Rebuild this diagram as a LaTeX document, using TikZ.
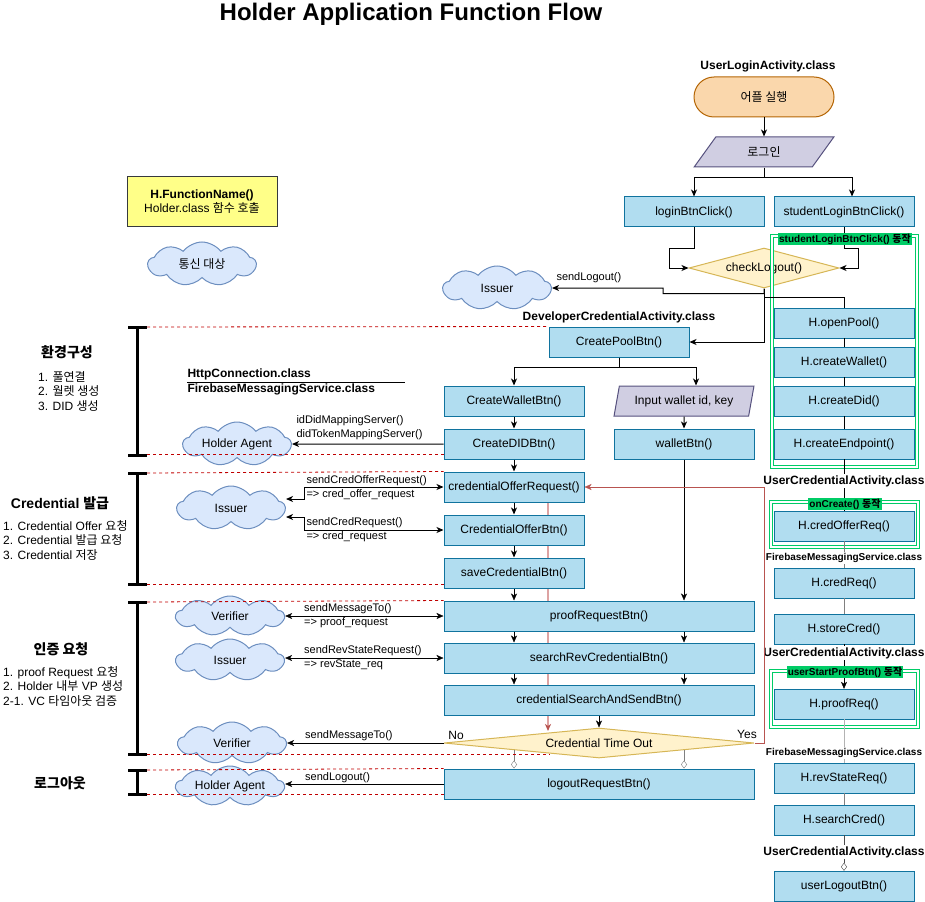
\documentclass[tikz,border=0pt]{standalone}
\usepackage{fontspec}
\setmainfont{Liberation Sans}
\newfontfamily\kr{Noto Sans CJK KR}
\usetikzlibrary{arrows.meta,shapes.geometric,shapes.symbols,backgrounds}

\definecolor{btnfill}{HTML}{B1DDF0}
\definecolor{btnline}{HTML}{10739E}
\definecolor{termfill}{HTML}{FAD7AC}
\definecolor{termline}{HTML}{B46504}
\definecolor{parafill}{HTML}{D0CEE2}
\definecolor{paraline}{HTML}{56517E}
\definecolor{decfill}{HTML}{FFF2CC}
\definecolor{decline}{HTML}{D6B656}
\definecolor{cloudfill}{HTML}{DAE8FC}
\definecolor{cloudline}{HTML}{6C8EBF}
\definecolor{notefill}{HTML}{FFFF88}
\definecolor{noteline}{HTML}{36393D}
\definecolor{framegreen}{HTML}{00CC66}
\definecolor{sepred}{HTML}{C00000}
\definecolor{redline}{HTML}{B85450}
\definecolor{pinkline}{HTML}{DDA3A3}
\definecolor{midgray}{HTML}{808080}
\definecolor{lightgray}{HTML}{B3B3B3}

\newcommand{\boxfont}{\fontsize{12}{14}\selectfont}
\newcommand{\smallfont}{\fontsize{11}{13}\selectfont}
\newcommand{\listfont}{\fontsize{12}{14.5}\selectfont}
\newcommand{\tagfont}{\fontsize{10}{12}\selectfont\bfseries}
\newcommand{\sectfont}{\fontsize{14}{17}\selectfont\bfseries}

\begin{document}
\begin{tikzpicture}[x=1pt,y=-1pt,line width=1pt,>={Stealth[length=7pt,width=6pt,inset=2pt]}]
\useasboundingbox (0,0) rectangle (925,901);
% Styles for each kind of shape
\tikzstyle{every node}=[font=\boxfont, inner sep=0pt];
\tikzstyle{btn} = [draw=btnline, fill=btnfill, minimum width=140, minimum height=30]
\tikzstyle{widebtn} = [btn, minimum width=310]
\tikzstyle{term} = [draw=termline, fill=termfill, rounded corners=20pt, minimum width=140, minimum height=40]
\tikzstyle{para} = [draw=paraline, fill=parafill, trapezium, trapezium stretches=true, minimum height=30, minimum width=140]
\tikzstyle{decision} = [draw=decline, fill=decfill, diamond, shape aspect=4]
\tikzstyle{peer} = [draw=cloudline, fill=cloudfill, cloud, cloud puffs=9, cloud puff arc=105, cloud ignores aspect, minimum width=108, minimum height=44]
\tikzstyle{note} = [draw=noteline, fill=notefill, minimum width=150, minimum height=50, align=center]
\tikzstyle{lbl} = [font=\smallfont, anchor=west]
\tikzstyle{cls} = [font=\boxfont\bfseries]
\tikzstyle{sec} = [font=\sectfont]
\tikzstyle{steps} = [anchor=west, align=left, font=\listfont]
\tikzstyle{sep} = [draw=sepred, dash pattern=on 3pt off 3pt, line width=0.8pt]
\tikzstyle{bracket} = [line width=3pt]
\tikzstyle{frame} = [draw=framegreen, double=white, double distance=1.1pt, line width=1.1pt]
\tikzstyle{tag} = [fill=framegreen, font=\tagfont, inner sep=1pt]

\node[font=\fontsize{24}{28}\selectfont\bfseries] (title) at (411,14) {Holder Application Function Flow};

% Legend
\node[note] (legend) at (202,202) {\textbf{H.FunctionName()}\\Holder.class {\kr 함수 호출}};
\node[peer] (legendCloud) at (202,264) {\kr 통신 대상};

% Login part
\node[cls] (lblUserLogin) at (768,66) {UserLoginActivity.class};
\node[term] (appStart) at (764,97) {\kr 어플 실행};
\node[para, trapezium left angle=55, trapezium right angle=125] (loginIn) at (764,152) {\kr 로그인};
\node[btn] (loginBtn) at (694,212) {loginBtnClick()};
\node[btn] (studentBtn) at (844,212) {studentLoginBtnClick()};
\node[decision, minimum width=150, minimum height=40] (chkLogout) at (764,268) {checkLogout()};
\node[peer] (issuerA) at (497,288) {Issuer};

\draw[->] (appStart) -- (loginIn);
\draw[->] (loginIn.south) -- ++(0,10) -| (loginBtn.north);
\draw[->] (loginIn.south) -- ++(0,10) -| ([xshift=8pt]studentBtn.north);
\draw[->] (loginBtn.south) -- ++(0,21) -- ++(-25,0) |- (chkLogout.west);
\draw[->] (studentBtn.south) -- ++(0,21) -- ++(14,0) |- (chkLogout.east);
\draw[->] (chkLogout.south) -- ++(0,5) -| (663,288) -- (issuerA.east);
\node[lbl] at (556,278) {sendLogout()};

% Developer credential activity
\node[cls] (lblDevCred) at (619,317) {DeveloperCredentialActivity.class};
\node[btn] (createPool) at (619,342) {CreatePoolBtn()};
\node[btn] (createWallet) at (514,401) {CreateWalletBtn()};
\node[para, trapezium left angle=70, trapezium right angle=110] (inputWallet) at (684,401) {Input wallet id, key};
\node[btn] (createDid) at (514,444) {CreateDIDBtn()};
\node[btn] (walletBtn) at (684,444) {walletBtn()};
\node[peer] (agentA) at (237,444) {Holder Agent};

\draw[->] (chkLogout.south) |- (createPool.east);
\draw[->] (createPool.south) -- ++(0,10) -| (createWallet.north);
\draw[->] (createPool.south) -- ++(0,10) -| ([xshift=12pt]inputWallet.north);
\draw[->] (createWallet) -- (createDid);
\draw[->] (inputWallet) -- (walletBtn);
\draw[->] (createDid) -- (agentA);
\node[lbl] at (296,421) {idDidMappingServer()};
\node[lbl] at (296,435) {didTokenMappingServer()};

\node[cls, anchor=west] (lblHttp) at (187,374) {HttpConnection.class};
\node[cls, anchor=west] (lblFcm) at (187,389) {FirebaseMessagingService.class};
\draw[line width=0.8pt] (187,382) -- (405,382);

% Credential issue
\node[btn] (credOfferRequest) at (514,487) {credentialOfferRequest()};
\node[btn] (credOfferBtn) at (514,530) {CredentialOfferBtn()};
\node[btn] (saveCred) at (514,573) {saveCredentialBtn()};
\node[peer] (issuerB) at (231,508) {Issuer};

\draw[->] (createDid) -- (credOfferRequest);
\draw[->] (credOfferRequest) -- (credOfferBtn);
\draw[->] (credOfferBtn) -- (saveCred);
\draw[<->] (issuerB.east |- 0,499) -| (304,487) -- (credOfferRequest.west);
\draw[<->] (issuerB.east |- 0,517) -| (304,530) -- (credOfferBtn.west);
\node[lbl] at (306,481) {sendCredOfferRequest()};
\node[lbl] at (306,495) {=> cred\_offer\_request};
\node[lbl] at (306,523) {sendCredRequest()};
\node[lbl] at (306,537) {=> cred\_request};

% Proof request
\node[widebtn] (proofReqBtn) at (599,616) {proofRequestBtn()};
\node[widebtn] (searchRev) at (599,658) {searchRevCredentialBtn()};
\node[widebtn] (credSearch) at (599,700) {credentialSearchAndSendBtn()};
\node[decision, minimum width=310, minimum height=30, shape aspect=10] (timeOut) at (599,743) {Credential Time Out};
\node[widebtn] (logoutBtn) at (599,784) {logoutRequestBtn()};
\node[peer, minimum height=40] (verifierA) at (230,616) {Verifier};
\node[peer, minimum height=42] (issuerC) at (230,660) {Issuer};
\node[peer, minimum height=42] (verifierB) at (232,743) {Verifier};
\node[peer, minimum height=40] (agentB) at (230,786) {Holder Agent};

\begin{pgfonlayer}{background}
\coordinate (pinkEnd) at (548,731);
\draw[draw=pinkline, line width=2pt, -{Stealth[length=7pt,width=6pt,inset=2pt,color=redline]}] ([xshift=34pt]credOfferRequest.south) -- (pinkEnd);
\end{pgfonlayer}

\draw[->] (saveCred.south) -- (saveCred.south |- proofReqBtn.north);
\draw[->] (walletBtn.south) -- (walletBtn.south |- proofReqBtn.north);
\draw[->] ([xshift=-85pt]proofReqBtn.south) -- ([xshift=-85pt]searchRev.north);
\draw[->] ([xshift=85pt]proofReqBtn.south) -- ([xshift=85pt]searchRev.north);
\draw[->] ([xshift=-85pt]searchRev.south) -- ([xshift=-85pt]credSearch.north);
\draw[->] ([xshift=85pt]searchRev.south) -- ([xshift=85pt]credSearch.north);
\draw[->] (credSearch) -- (timeOut);
\draw[<->] (verifierA.east |- proofReqBtn.west) -- (proofReqBtn.west);
\draw[<->] (issuerC.east |- searchRev.west) -- (searchRev.west);
\draw[->] (timeOut.west) -- (verifierB.east |- timeOut.west);
\draw[->] (logoutBtn.west) -- (agentB.east |- logoutBtn.west);
\node[lbl] at (304,609) {sendMessageTo()};
\node[lbl] at (304,623) {=> proof\_request};
\node[lbl] at (304,651) {sendRevStateRequest()};
\node[lbl] at (304,665) {=> revState\_req};
\node[lbl] at (305,736) {sendMessageTo()};
\node[lbl] at (305,778) {sendLogout()};
\node (lblNo) at (456,735) {No};
\node (lblYes) at (747,734) {Yes};

\coordinate (outL) at (514,750);
\coordinate (outR) at (684,750);
\draw[draw=midgray, -{Diamond[fill=white,length=8pt,width=6pt]}] (outL) -- (outL |- logoutBtn.north);
\draw[draw=midgray, -{Diamond[fill=white,length=8pt,width=6pt]}] (outR) -- (outR |- logoutBtn.north);

% Section dividers
\draw[sep] (147,327) -- (createPool.north west);
\draw[sep] (147,454) -- (createDid.west |- 0,454);
\draw[sep] (147,473) -- (credOfferRequest.north west);
\draw[sep] (147,584) -- (saveCred.west |- 0,584);
\draw[sep] (147,602) -- (proofReqBtn.north west);
\draw[sep] (147,754) -- (550,754);
\draw[sep] (147,770) -- (logoutBtn.north west);
\draw[sep] (147,794) -- (logoutBtn.west |- 0,794);

\draw[bracket] (128,327) -- (147,327) (137,327) -- (137,455) (128,455) -- (147,455);
\draw[bracket] (128,473) -- (147,473) (137,473) -- (137,584) (128,584) -- (147,584);
\draw[bracket] (128,602) -- (147,602) (137,602) -- (137,754) (128,754) -- (147,754);
\draw[bracket] (128,770) -- (147,770) (137,770) -- (137,794) (128,794) -- (147,794);

\node[sec] at (67,352) {\kr 환경구성};
\node[steps] at (38,391) {1. {\kr 풀연결}\\2. {\kr 월렛 생성}\\3. DID {\kr 생성}};
\node[sec] at (60,503) {Credential {\kr 발급}};
\node[steps] at (3,540) {1. Credential Offer {\kr 요청}\\2. Credential {\kr 발급 요청}\\3. Credential {\kr 저장}};
\node[sec] at (61,649) {\kr 인증 요청};
\node[steps] at (3,686) {1. proof Request {\kr 요청}\\2. Holder {\kr 내부} VP {\kr 생성}\\2-1. VC {\kr 타임아웃 검증}};
\node[sec] at (60,783) {\kr 로그아웃};

% Holder.class calls
\draw[frame] (772,236) rectangle (917,467);
\draw[frame] (771,502) rectangle (918,547);
\draw[frame] (771,671) rectangle (918,727);
\node[btn] (hOpenPool) at (844,323) {H.openPool()};
\node[btn] (hCreateWallet) at (844,362) {H.createWallet()};
\node[btn] (hCreateDid) at (844,401) {H.createDid()};
\node[btn] (hCreateEndpoint) at (844,444) {H.createEndpoint()};
\node[btn] (hCredOfferReq) at (844,526) {H.credOfferReq()};
\node[btn] (hCredReq) at (844,583) {H.credReq()};
\node[btn] (hStoreCred) at (844,629) {H.storeCred()};
\node[btn] (hProofReq) at (844,704) {H.proofReq()};
\node[btn] (hRevStateReq) at (844,778) {H.revStateReq()};
\node[btn] (hSearchCred) at (844,820) {H.searchCred()};
\node[btn] (userLogout) at (844,886) {userLogoutBtn()};

\draw (chkLogout.south) -- ++(0,9) -| (hOpenPool.north);
\draw (hOpenPool) -- (hCreateWallet);
\draw (hCreateWallet) -- (hCreateDid);
\draw (hCreateDid) -- (hCreateEndpoint);
\draw (hCreateEndpoint) -- (hCredOfferReq);
\draw[draw=midgray] (hCredOfferReq) -- (hCredReq);
\draw[draw=midgray] (hCredReq) -- (hStoreCred);
\draw[->] (hStoreCred) -- (hProofReq);
\draw[draw=lightgray] (hProofReq) -- (hRevStateReq);
\draw[draw=midgray] (hRevStateReq) -- (hSearchCred);
\draw[draw=black!70, -{Diamond[fill=white,length=8pt,width=6pt]}] (hSearchCred) -- (userLogout);

\node[tag] (tagStudent) at (845,239) {studentLoginBtnClick() {\kr 동작}};
\node[tag] (tagCreate) at (845,504) {onCreate() {\kr 동작}};
\node[tag] (tagProof) at (845,672) {userStartProofBtn() {\kr 동작}};
\node[cls, fill=white, inner sep=1pt] (lblUserCredA) at (844,481) {UserCredentialActivity.class};
\node[cls, fill=white, inner sep=1pt, font=\tagfont] (lblFcmA) at (844,558) {FirebaseMessagingService.class};
\node[cls, fill=white, inner sep=1pt] (lblUserCredB) at (844,653) {UserCredentialActivity.class};
\node[cls, fill=white, inner sep=1pt, font=\tagfont] (lblFcmB) at (844,753) {FirebaseMessagingService.class};
\node[cls, fill=white, inner sep=1pt] (lblUserCredC) at (844,852) {UserCredentialActivity.class};

% Time out loops back to the offer
\draw[->, draw=redline] (timeOut.east) -- ++(10,0) |- (credOfferRequest.east);
\end{tikzpicture}
\end{document}
